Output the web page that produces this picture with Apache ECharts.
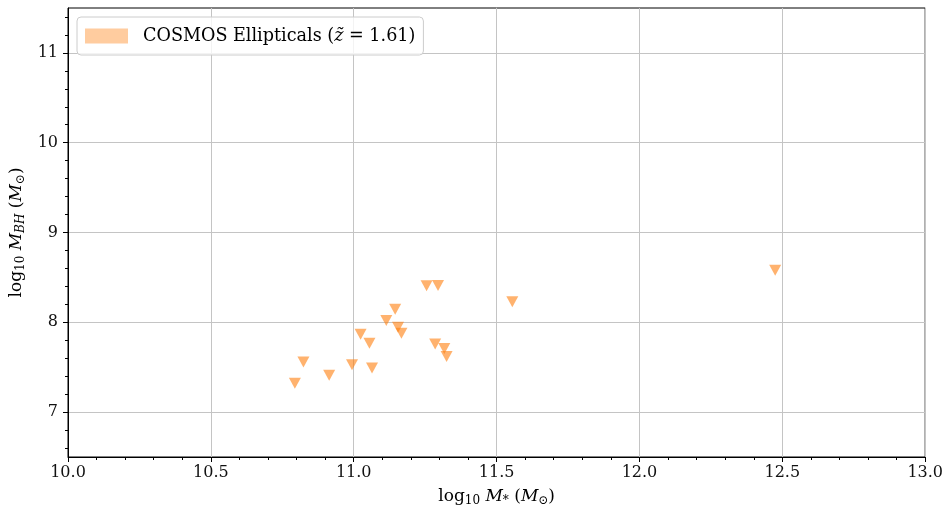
<!DOCTYPE html>
<html>
<head>
<meta charset="utf-8">
<script src="https://cdn.jsdelivr.net/npm/echarts@6/dist/echarts.min.js"></script>
<style>html,body{margin:0;padding:0;background:#fff;}#c{width:946px;height:515px;}</style>
</head>
<body>
<div id="c"></div>
<script>
// log10 stellar mass (x) and log10 black-hole mass (y) for COSMOS ellipticals
var logMstar = [10.794, 10.824, 10.914, 10.994, 11.024, 11.055, 11.064, 11.114, 11.145, 11.155, 11.167, 11.255, 11.285, 11.295, 11.317, 11.325, 11.555, 12.475];
var logMBH   = [7.32,   7.557,  7.41,   7.528,  7.867,  7.768,  7.49,   8.02,   8.144,  7.945,  7.878,  8.406,  7.757,  8.41,   7.709,  7.62,   8.23,   8.58];
var xTicks = [10.0, 10.5, 11.0, 11.5, 12.0, 12.5, 13.0];
var yTicks = [7, 8, 9, 10, 11];
var yMinorTicks = [6.6, 6.8, 7.2, 7.4, 7.6, 7.8, 8.2, 8.4, 8.6, 8.8, 9.2, 9.4, 9.6, 9.8, 10.2, 10.4, 10.6, 10.8, 11.2, 11.4];
var seriesName = 'COSMOS Ellipticals';

var FONT = 'DejaVu Serif';
var points = logMstar.map(function (x, i) { return [x, logMBH[i]]; });

var chart = echarts.init(document.getElementById('c'));
var rich = {
  n: {fontFamily: FONT, fontSize: 17, color: '#000'},
  it: {fontFamily: FONT, fontSize: 17, fontStyle: 'italic', color: '#000'},
  sub: {fontFamily: FONT, fontSize: 12, color: '#000', verticalAlign: 'bottom', padding: [8, 0, 0, 0]},
  subi: {fontFamily: FONT, fontSize: 12, fontStyle: 'italic', color: '#000', verticalAlign: 'bottom', padding: [8, 0, 0, 0]}
};
var lrich = {
  n: {fontFamily: FONT, fontSize: 17.6, color: '#000'},
  it: {fontFamily: FONT, fontSize: 17.6, fontStyle: 'italic', color: '#000'}
};
var yName = '{n|log}{sub|10}{it| M}{subi|BH}{n| (}{it|M}{sub|\u2299}{n|)}';
chart.setOption({
  animation: false,
  grid: {left: 68, right: 19, top: 8, bottom: 58, show: true, borderColor: '#000', borderWidth: 1, containLabel: false},
  legend: {
    left: 77, top: 17,
    padding: [10, 8, 10, 8],
    borderColor: '#cccccc', borderWidth: 1, borderRadius: 4,
    backgroundColor: 'rgba(255,255,255,0.8)',
    itemWidth: 43, itemHeight: 15, itemGap: 10,
    data: [{name: seriesName, icon: 'rect', itemStyle: {color: 'rgba(255,127,14,0.5)', borderWidth: 0}}],
    formatter: function (name) { return '{n|' + name + ' (}{it|z\u0303}{n| = 1.61)}'; },
    textStyle: {fontFamily: FONT, fontSize: 17.6, color: '#000', padding: [0, 0, 0, 10], rich: lrich}
  },
  xAxis: {
    type: 'value', min: 10, max: 13, interval: 0.5,
    name: '{n|log}{sub|10}{it| M}{sub|*}{n| (}{it|M}{sub|\u2299}{n|)}',
    nameLocation: 'middle', nameGap: 30,
    nameTextStyle: {rich: rich},
    axisLine: {show: true, onZero: false, lineStyle: {color: '#000', width: 1}},
    axisTick: {show: true, inside: false, length: 5, lineStyle: {color: '#000'}},
    minorTick: {show: true, splitNumber: 5, length: 3, lineStyle: {color: '#000'}},
    axisLabel: {fontFamily: FONT, fontSize: 16, color: '#111', margin: 8,
      formatter: function (v) { return v.toFixed(1); }},
    splitLine: {show: true, lineStyle: {color: '#c4c4c4', width: 1}}
  },
  yAxis: [{
    type: 'value', min: 6.5, max: 11.5,
    name: yName,
    nameLocation: 'middle', nameGap: 28, nameRotate: 90,
    nameTextStyle: {rich: rich},
    axisLine: {show: true, onZero: false, lineStyle: {color: '#000', width: 1}},
    axisTick: {show: true, length: 5, lineStyle: {color: '#000'}, customValues: yTicks},
    axisLabel: {show: true, fontFamily: FONT, fontSize: 16, color: '#111', margin: 10,
      customValues: yTicks, formatter: function (v) { return String(Math.round(v)); }},
    splitLine: {show: true, lineStyle: {color: '#c4c4c4', width: 1}}
  }, {
    type: 'value', min: 6.5, max: 11.5, position: 'left',
    axisLine: {show: false},
    axisTick: {show: true, length: 3, lineStyle: {color: '#000'}, customValues: yMinorTicks},
    axisLabel: {show: false, customValues: yMinorTicks},
    splitLine: {show: false}
  }],
  series: [{
    name: seriesName,
    type: 'scatter',
    data: points,
    symbol: 'triangle',
    symbolRotate: 180,
    symbolSize: [12, 11],
    itemStyle: {color: 'rgba(255,127,14,0.75)'},
    z: 5
  }]
});
</script>
</body>
</html>
